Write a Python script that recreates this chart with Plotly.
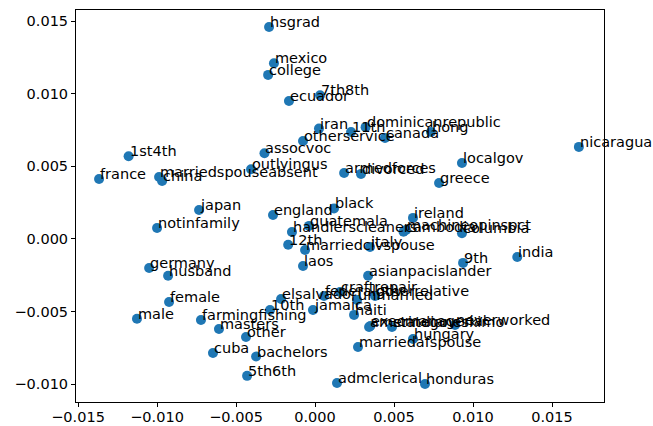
import plotly.graph_objects as go

# Embedding coordinates of category tokens (2-D projection)
labels = [
    "hsgrad", "mexico", "college", "ecuador", "7th8th", "iran", "otherservice",
    "11th", "dominicanrepublic", "canada", "hong", "nicaragua", "assocvoc",
    "1st4th", "france", "marriedspouseabsent", "china", "outlyingus",
    "armedforces", "divorced", "localgov", "greece", "japan", "notinfamily",
    "england", "black", "ireland", "handlerscleaners", "guatemala", "12th",
    "marriedcivspouse", "italy", "laos", "machineopinspct", "cambodia",
    "columbia", "9th", "india", "asianpacislander", "germany", "husband",
    "female", "male", "farmingfishing", "masters", "other", "cuba",
    "bachelors", "5th6th", "elsalvador", "10th", "jamaica", "haiti",
    "marriedafspouse", "hungary", "admclerical", "honduras",
    "amerindianeskimo", "execmanagerial", "stategov", "neverworked",
    "federalgov", "craftrepair", "otherrelative", "unmarried",
]
x_vals = [
    -0.00291, -0.00260, -0.00297, -0.00165, 0.00032, 0.00025, -0.00076,
    0.00228, 0.00320, 0.00443, 0.00734, 0.01670, -0.00320,
    -0.01180, -0.01367, -0.00987, -0.00968, -0.00405,
    0.00184, 0.00291, 0.00930, 0.00785, -0.00734, -0.01000,
    -0.00266, 0.00120, 0.00620, -0.00146, -0.00038, -0.00170,
    -0.00063, 0.00348, -0.00076, 0.00576, 0.00560,
    0.00930, 0.00937, 0.01280, 0.00336, -0.01050, -0.00930,
    -0.00924, -0.01127, -0.00722, -0.00608, -0.00437, -0.00646,
    -0.00373, -0.00430, -0.00215, -0.00285, -0.00013, 0.00247,
    0.00272, 0.00620, 0.00139, 0.00696,
    0.00342, 0.00350, 0.00487, 0.00886,
    0.00057, 0.00158, 0.00380, 0.00266,
]
y_vals = [
    0.01460, 0.01210, 0.01130, 0.00950, 0.00990, 0.00760, 0.00675,
    0.00737, 0.00770, 0.00695, 0.00737, 0.00634, 0.00590,
    0.00570, 0.00413, 0.00427, 0.00400, 0.00480,
    0.00454, 0.00448, 0.00523, 0.00386, 0.00200, 0.00076,
    0.00165, 0.00210, 0.00145, 0.00048, 0.00090, -0.00040,
    -0.00076, -0.00055, -0.00186, 0.00062, 0.00050,
    0.00040, -0.00165, -0.00124, -0.00253, -0.00200, -0.00253,
    -0.00434, -0.00550, -0.00558, -0.00620, -0.00675, -0.00785,
    -0.00810, -0.00943, -0.00413, -0.00489, -0.00489, -0.00523,
    -0.00744, -0.00689, -0.00992, -0.00999,
    -0.00606, -0.00600, -0.00606, -0.00592,
    -0.00393, -0.00365, -0.00393, -0.00420,
]

x_ticks = [-0.015, -0.010, -0.005, 0.000, 0.005, 0.010, 0.015]
x_tick_text = ["\u22120.015", "\u22120.010", "\u22120.005", "0.000", "0.005", "0.010", "0.015"]
y_ticks = [-0.010, -0.005, 0.000, 0.005, 0.010, 0.015]
y_tick_text = ["\u22120.010", "\u22120.005", "0.000", "0.005", "0.010", "0.015"]

FONT = "DejaVu Sans"
BLUE = "#1f77b4"

fig = go.Figure()
fig.add_trace(go.Scatter(
    x=x_vals, y=y_vals, mode="markers",
    marker=dict(color=BLUE, size=10, line=dict(width=0)),
    hoverinfo="text", text=labels, cliponaxis=False,
))

# Word labels: left edge at the point, baseline at the point
for lab, xv, yv in zip(labels, x_vals, y_vals):
    fig.add_annotation(
        x=xv, y=yv, text=lab, showarrow=False,
        xanchor="left", yanchor="bottom", xshift=-1, yshift=-5,
        font=dict(family=FONT, size=14.5, color="black"),
    )

axis_common = dict(
    showgrid=False, zeroline=False, showline=True, mirror=True,
    linecolor="black", linewidth=1, ticks="outside", ticklen=4,
    tickcolor="black", tickwidth=1, automargin=False,
    tickfont=dict(family=FONT, size=14.5, color="black"),
)
fig.update_xaxes(range=[-0.01513, 0.01829], tickvals=x_ticks, ticktext=x_tick_text,
                 ticklabelstandoff=-2, **axis_common)
fig.update_yaxes(range=[-0.01123, 0.01577], tickvals=y_ticks, ticktext=y_tick_text, **axis_common)

fig.update_layout(
    width=653, height=426,
    margin=dict(l=76, r=49, t=10, b=24),
    plot_bgcolor="white", paper_bgcolor="white",
    showlegend=False,
    font=dict(family=FONT, size=14.5, color="black"),
)

fig.write_html("out.html")
